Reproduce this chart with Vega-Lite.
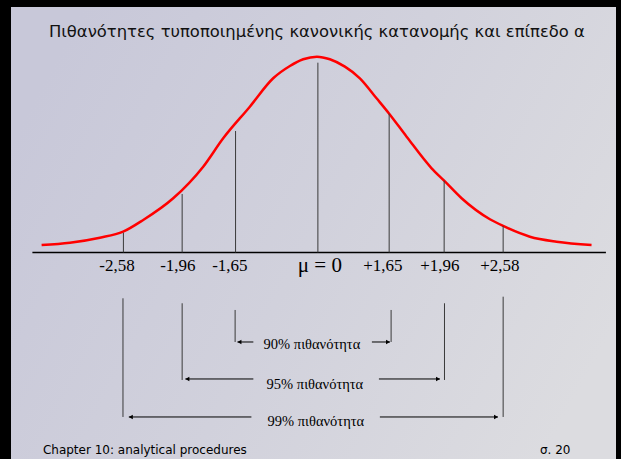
{
  "$schema": "https://vega.github.io/schema/vega-lite/v6.json",
  "width": 605,
  "height": 452,
  "autosize": {"type": "none"},
  "padding": {"left": 11, "top": 7, "right": 5, "bottom": 0},
  "background": "#000000",
  "config": {"view": {"stroke": null}},
  "datasets": {
    "curve": [
      {"x": -3.151, "y": 0.0385}, {"x": -2.828, "y": 0.0503}, {"x": -2.486, "y": 0.076},
      {"x": -2.221, "y": 0.1068}, {"x": -1.992, "y": 0.1668}, {"x": -1.65, "y": 0.2782},
      {"x": -1.308, "y": 0.4404}, {"x": -1.08, "y": 0.5861},
      {"x": -0.776, "y": 0.7483}, {"x": -0.51, "y": 0.8941},
      {"x": -0.319, "y": 0.9572}, {"x": -0.168, "y": 0.9916}, {"x": -0.011, "y": 1.005},
      {"x": 0.137, "y": 0.9916}, {"x": 0.308, "y": 0.9537}, {"x": 0.479, "y": 0.8941},
      {"x": 0.669, "y": 0.7915}, {"x": 0.813, "y": 0.7125}, {"x": 1.012, "y": 0.5944},
      {"x": 1.297, "y": 0.4322}, {"x": 1.44, "y": 0.3685}, {"x": 1.639, "y": 0.2782},
      {"x": 1.962, "y": 0.1704}, {"x": 2.113, "y": 0.136}, {"x": 2.418, "y": 0.0811},
      {"x": 2.722, "y": 0.0554}, {"x": 3.121, "y": 0.0385}
    ],
    "baseline": [{"x": -3.256, "x2": 3.285, "y": 0}],
    "vlines": [
      {"x": -2.218, "y": 0.1016, "y2": 0},
      {"x": -1.548, "y": 0.3003, "y2": 0},
      {"x": -0.939, "y": 0.6236, "y2": 0},
      {"x": 0.0, "y": 0.9742, "y2": 0},
      {"x": 0.813, "y": 0.7125, "y2": 0},
      {"x": 1.44, "y": 0.3685, "y2": 0},
      {"x": 2.113, "y": 0.136, "y2": 0},
      {"x": -2.223, "y": -0.2351, "y2": -0.8443},
      {"x": 2.113, "y": -0.2269, "y2": -0.8443},
      {"x": -1.548, "y": -0.2607, "y2": -0.6544},
      {"x": 1.444, "y": -0.2607, "y2": -0.6544},
      {"x": -0.944, "y": -0.2951, "y2": -0.4594},
      {"x": 0.835, "y": -0.2951, "y2": -0.4594}
    ],
    "arrows": [
      {"x": -0.736, "x2": -0.917, "y": -0.4594},
      {"x": 0.616, "x2": 0.821, "y": -0.4594},
      {"x": -0.736, "x2": -1.511, "y": -0.6493},
      {"x": 0.696, "x2": 1.391, "y": -0.6493},
      {"x": -0.758, "x2": -2.156, "y": -0.8443},
      {"x": 0.707, "x2": 2.053, "y": -0.8443}
    ],
    "heads": [
      {"x": -0.895, "y": -0.4594, "dir": "left"},
      {"x": 0.8, "y": -0.4594, "dir": "right"},
      {"x": -1.489, "y": -0.6493, "dir": "left"},
      {"x": 1.37, "y": -0.6493, "dir": "right"},
      {"x": -2.134, "y": -0.8443, "dir": "left"},
      {"x": 2.032, "y": -0.8443, "dir": "right"}
    ],
    "ticks": [
      {"x": -2.292, "y": -0.0693, "label": "-2,58"},
      {"x": -1.597, "y": -0.0693, "label": "-1,96"},
      {"x": -1.004, "y": -0.0693, "label": "-1,65"},
      {"x": 0.741, "y": -0.0693, "label": "+1,65"},
      {"x": 1.391, "y": -0.0693, "label": "+1,96"},
      {"x": 2.076, "y": -0.0693, "label": "+2,58"}
    ],
    "mu": [{"x": 0.023, "y": -0.0693, "label": "μ = 0"}],
    "probs": [
      {"x": -0.068, "y": -0.4748, "label": "90% πιθανότητα"},
      {"x": -0.034, "y": -0.6801, "label": "95% πιθανότητα"},
      {"x": -0.023, "y": -0.87, "label": "99%  πιθανότητα"}
    ],
    "title": [{"x": -0.011, "y": 1.1318, "label": "Πιθανότητες τυποποιημένης κανονικής κατανομής και επίπεδο α"}],
    "footer": [
      {"x": -3.136, "y": -1.0137, "label": "Chapter 10: analytical procedures"},
      {"x": 2.532, "y": -1.0137, "label": "σ. 20"}
    ]
  },
  "layer": [
    {
      "data": {"values": [{}]},
      "mark": {
        "type": "rect",
        "color": {
          "gradient": "linear", "x1": 0, "y1": 0.3, "x2": 1, "y2": 0.7,
          "stops": [
            {"offset": 0, "color": "#c8c8d9"},
            {"offset": 0.5, "color": "#d1d1dc"},
            {"offset": 1, "color": "#dcdce0"}
          ]
        }
      },
      "encoding": {}
    },
    {
      "data": {"name": "curve"},
      "mark": {"type": "line", "color": "#ff0000", "strokeWidth": 2.5, "interpolate": "monotone"},
      "encoding": {
        "x": {"field": "x", "type": "quantitative", "scale": {"domain": [-3.5, 3.4], "nice": false, "zero": false}, "axis": null},
        "y": {"field": "y", "type": "quantitative", "scale": {"domain": [-1.06, 1.26], "nice": false, "zero": false}, "axis": null}
      }
    },
    {
      "data": {"name": "baseline"},
      "mark": {"type": "rule", "color": "#000000", "strokeWidth": 1.5},
      "encoding": {
        "x": {"field": "x", "type": "quantitative"},
        "x2": {"field": "x2"},
        "y": {"field": "y", "type": "quantitative"}
      }
    },
    {
      "data": {"name": "vlines"},
      "mark": {"type": "rule", "color": "#3a3a3a", "strokeWidth": 1},
      "encoding": {
        "x": {"field": "x", "type": "quantitative"},
        "y": {"field": "y", "type": "quantitative"},
        "y2": {"field": "y2"}
      }
    },
    {
      "data": {"name": "arrows"},
      "mark": {"type": "rule", "color": "#000000", "strokeWidth": 1},
      "encoding": {
        "x": {"field": "x", "type": "quantitative"},
        "x2": {"field": "x2"},
        "y": {"field": "y", "type": "quantitative"}
      }
    },
    {
      "data": {"name": "heads"},
      "mark": {"type": "point", "filled": true, "color": "#000000", "size": 22, "opacity": 1},
      "encoding": {
        "x": {"field": "x", "type": "quantitative"},
        "y": {"field": "y", "type": "quantitative"},
        "shape": {"field": "dir", "type": "nominal", "scale": {"domain": ["left", "right"], "range": ["triangle-left", "triangle-right"]}, "legend": null}
      }
    },
    {
      "data": {"name": "ticks"},
      "mark": {"type": "text", "font": "Liberation Serif", "fontSize": 17, "color": "#000000", "align": "center", "baseline": "middle"},
      "encoding": {
        "x": {"field": "x", "type": "quantitative"},
        "y": {"field": "y", "type": "quantitative"},
        "text": {"field": "label"}
      }
    },
    {
      "data": {"name": "mu"},
      "mark": {"type": "text", "font": "Liberation Serif", "fontSize": 21, "color": "#000000", "align": "center", "baseline": "middle"},
      "encoding": {
        "x": {"field": "x", "type": "quantitative"},
        "y": {"field": "y", "type": "quantitative"},
        "text": {"field": "label"}
      }
    },
    {
      "data": {"name": "probs"},
      "mark": {"type": "text", "font": "Liberation Serif", "fontSize": 14.5, "color": "#000000", "align": "center", "baseline": "middle"},
      "encoding": {
        "x": {"field": "x", "type": "quantitative"},
        "y": {"field": "y", "type": "quantitative"},
        "text": {"field": "label"}
      }
    },
    {
      "data": {"name": "title"},
      "mark": {"type": "text", "font": "DejaVu Sans", "fontSize": 16.4, "color": "#111111", "align": "center", "baseline": "middle"},
      "encoding": {
        "x": {"field": "x", "type": "quantitative"},
        "y": {"field": "y", "type": "quantitative"},
        "text": {"field": "label"}
      }
    },
    {
      "data": {"name": "footer"},
      "mark": {"type": "text", "font": "DejaVu Sans", "fontSize": 12, "color": "#000000", "align": "left", "baseline": "middle"},
      "encoding": {
        "x": {"field": "x", "type": "quantitative"},
        "y": {"field": "y", "type": "quantitative"},
        "text": {"field": "label"}
      }
    }
  ]
}
